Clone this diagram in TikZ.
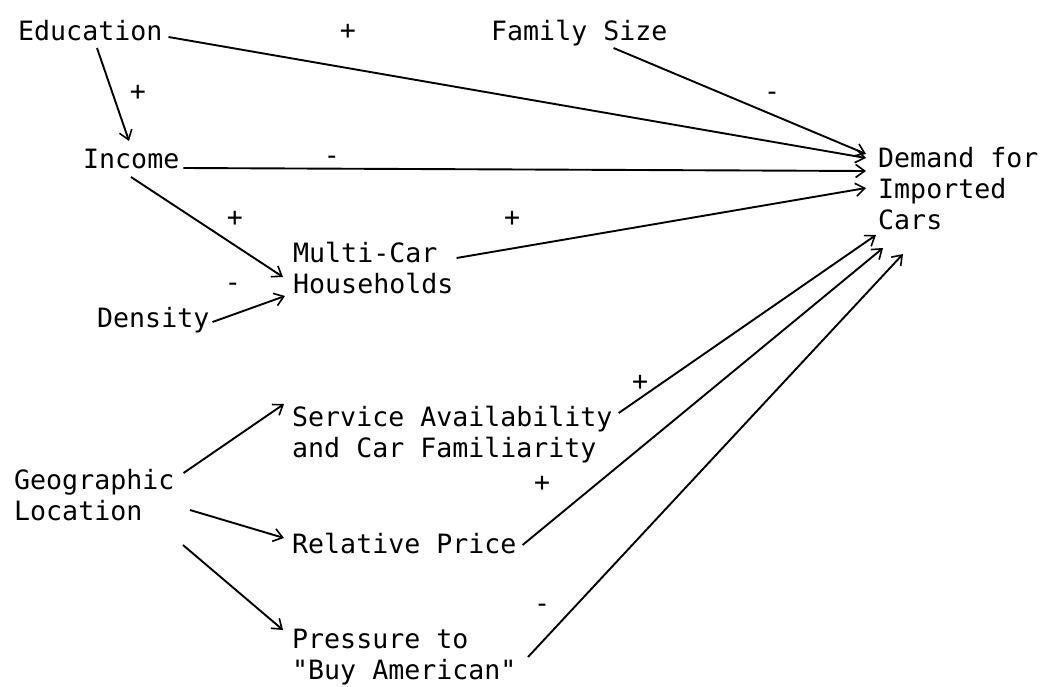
\documentclass[tikz,border=0pt]{standalone}
\usepackage{fontspec}
\setmainfont{DejaVu Sans Mono}[Ligatures=TeXOff]
\usepackage{xcolor}
\usepackage{tikz}
\usetikzlibrary{arrows.meta}

\begin{document}
\begin{tikzpicture}[x=1pt,y=-1pt,
    txt/.style={inner sep=0pt, anchor=base west, align=left,
                font=\fontsize{26.6}{31}\selectfont},
    sgn/.style={inner sep=0pt, font=\fontsize{26.6}{31}\selectfont},
    link/.style={line width=1.9pt, -{Straight Barb[length=9pt,width=13pt,line width=1.6pt]}}]
    \useasboundingbox (0,0) rectangle (1040,686);

    % Draw the factors (base = last line)
    \node[txt] (edu) at (18,40) {Education};
    \node[txt] (fam) at (491,40) {Family Size};
    \node[txt] (inc) at (83,168) {Income};
    \node[txt] (dem) at (878,229) {Demand for\\Imported\\Cars};
    \node[txt] (mul) at (293,293) {Multi-Car\\Households};
    \node[txt] (den) at (97,327) {Density};
    \node[txt] (ser) at (292,457) {Service Availability\\and Car Familiarity};
    \node[txt] (geo) at (14,520) {Geographic\\Location};
    \node[txt] (rel) at (292,553) {Relative Price};
    \node[txt] (pre) at (292,679) {Pressure to\\"Buy American"};

    % Signs of the effects
    \node[sgn] (p1) at (348,32) {+};
    \node[sgn] (p2) at (138,93) {+};
    \node[sgn] (p3) at (772,96) {-};
    \node[sgn] (p4) at (332,160) {-};
    \node[sgn] (p5) at (235,219) {+};
    \node[sgn] (p6) at (512,219) {+};
    \node[sgn] (p7) at (233,287) {-};
    \node[sgn] (p8) at (640,383) {+};
    \node[sgn] (p9) at (542,484) {+};
    \node[sgn] (p10) at (542,608) {-};

    % Arrows into demand
    \draw[link] ([shift={(6,-3)}]edu.base east) -- ([shift={(-12,-71)}]dem.base west);
    \draw[link] ([shift={(-54,8)}]fam.base east) -- ([shift={(-12,-75)}]dem.base west);
    \draw[link] ([shift={(4,0)}]inc.base east) -- ([shift={(-12,-58)}]dem.base west);
    \draw[link] ([shift={(3,-35)}]mul.base east) -- ([shift={(-12,-41)}]dem.base west);
    \draw[link] ([shift={(6,-44)}]ser.base east) -- ([shift={(-2,6)}]dem.base west);
    \draw[link] ([shift={(6,-8)}]rel.base east) -- ([shift={(5,19)}]dem.base west);
    \draw[link] ([shift={(236,-22)}]pre.base west) -- ([shift={(25,25)}]dem.base west);

    % Arrows between the other factors
    \draw[link] ([shift={(79,8)}]edu.base west) -- ([shift={(46,-27)}]inc.base west);
    \draw[link] ([shift={(48,9)}]inc.base west) -- ([shift={(-10,-16)}]mul.base west);
    \draw[link] ([shift={(3,-5)}]den.base east) -- ([shift={(-8,3)}]mul.base west);
    \draw[link] ([shift={(9,-47)}]geo.base east) -- ([shift={(-8,-53)}]ser.base west);
    \draw[link] ([shift={(176,-10)}]geo.base west) -- ([shift={(-8,-15)}]rel.base west);
    \draw[link] ([shift={(169,25)}]geo.base west) -- ([shift={(-9,-49)}]pre.base west);
\end{tikzpicture}
\end{document}
